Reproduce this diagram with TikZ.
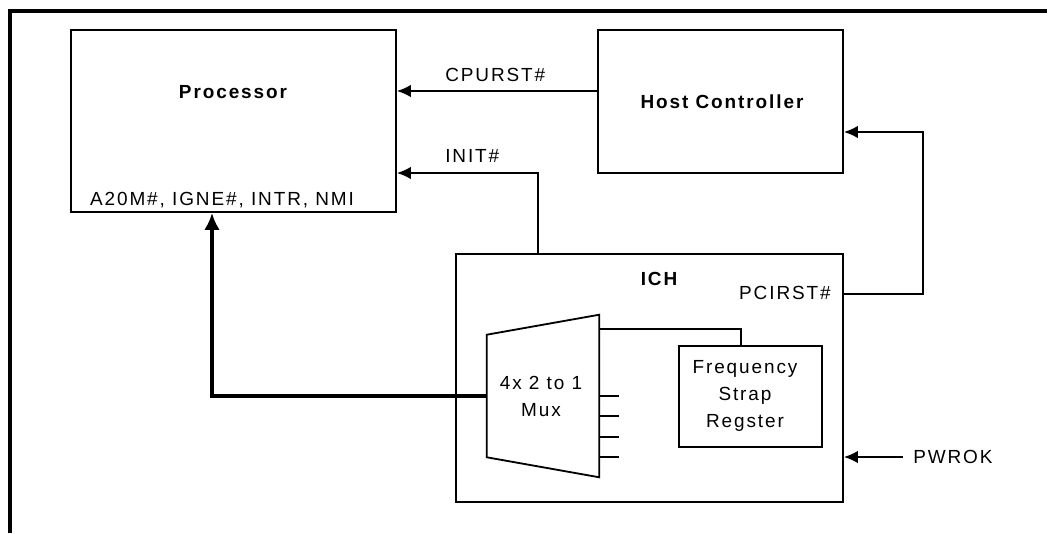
\documentclass[tikz,border=0pt]{standalone}
\usepackage{fontspec}
\setmainfont[LetterSpace=10]{Liberation Sans}
\usetikzlibrary{calc, arrows.meta, positioning}

\begin{document}
\begin{tikzpicture}[auto, >={Latex[length=10pt, width=9pt]}, node distance = 1 cm]
	\tikzstyle{block} = [draw=black, line width=1.3pt, rectangle, inner sep=0pt]
	\tikzstyle{invis} = [draw=none, inner sep=0pt, font=\fontsize{13.5}{19.5}\selectfont]
	\tikzstyle{title} = [invis, font=\fontsize{13.5}{19.5}\selectfont\bfseries]
	\tikzstyle{wire} = [line width=1.3pt]
	\tikzstyle{bus} = [line width=2.2pt, >={Latex[length=12pt, width=11pt]}]
	
	\useasboundingbox (0,0) rectangle (26.175,13.325);
	\draw[line width=2.4pt] (0.25,0) -- (0.25,13.05) -- (26.175,13.05);
	
	% boxes
	\node[block, minimum width=8.125cm, minimum height=4.55cm]	at (5.8375,10.3)	(proc)	{};
	\node[block, minimum width=6.125cm, minimum height=3.575cm]	at (18.0125,10.7875)	(host)	{};
	\node[block, minimum width=9.675cm, minimum height=6.2cm]	at (16.2375,3.875)	(ich)	{};
	\node[block, minimum width=3.575cm, minimum height=2.525cm]	at (18.7625,3.4125)	(freq)	{};
	\node[draw=none, minimum width=2.8cm, minimum height=4.05cm]	at (13.575,3.425)	(mux)	{};
	\draw[wire] (mux.north east) -- (mux.south east) -- ($(mux.south west)+(0,0.5)$)
		-- ($(mux.north west)+(0,-0.5)$) -- cycle;
	
	% texts
	\node[title]				at (5.825,11.025)	(proctxt)	{Processor};
	\node[invis]				at (5.55,8.325)		(pins)		{A20M\#, IGNE\#, INTR, NMI};
	\node[title]				at (18.05,10.775)	(hosttxt)	{Host Controller};
	\node[title]				at (16.475,6.35)	(ichtxt)	{ICH};
	\node[invis, anchor=east]	at (20.775,6.0)		(pcitxt)	{PCIRST\#};
	\node[invis, align=center]	at (13.525,3.4125)	(muxtxt)	{4x 2 to 1\\Mux};
	\node[invis, align=center]	at (18.625,3.425)	(freqtxt)	{Frequency\\Strap\\Regster};
	\node[invis, anchor=west]	at (11.125,11.45)	(cputxt)	{CPURST\#};
	\node[invis, anchor=west]	at (11.125,9.425)	(inittxt)	{INIT\#};
	\node[invis, anchor=west]	at (22.825,1.9)		(pwrtxt)	{PWROK};
	
	% connectors
	\coordinate (cpurst)	at (0,11.05);
	\coordinate (init)		at (13.45,9.0);
	\coordinate (pci)		at (23.075,5.975);
	\coordinate (hcin)		at (0,10.025);
	\coordinate (pwrok)		at (22.575,1.9);
	\coordinate (bend)		at (5.3,3.425);
	\coordinate (tap)		at (18.525,5.1);
	
	\path[->, wire]
	(host.west |- cpurst)	edge	(proc.east |- cpurst)
	(pwrok)					edge	(ich.east |- pwrok);
	\draw[->, wire] (ich.north -| init) -- (init) -- (proc.east |- init);
	\draw[->, wire] (ich.east |- pci) -- (pci) |- (host.east |- hcin);
	\draw[->, bus] (mux.west) -| (proc.south -| bend);
	\draw[wire] (mux.east |- tap) -- (tap) -- (freq.north -| tap);
	\foreach \y in {3.425, 2.925, 2.4, 1.9}
		\draw[wire] (mux.east |- 0,\y) -- ++(0.5,0);
\end{tikzpicture}
\end{document}
